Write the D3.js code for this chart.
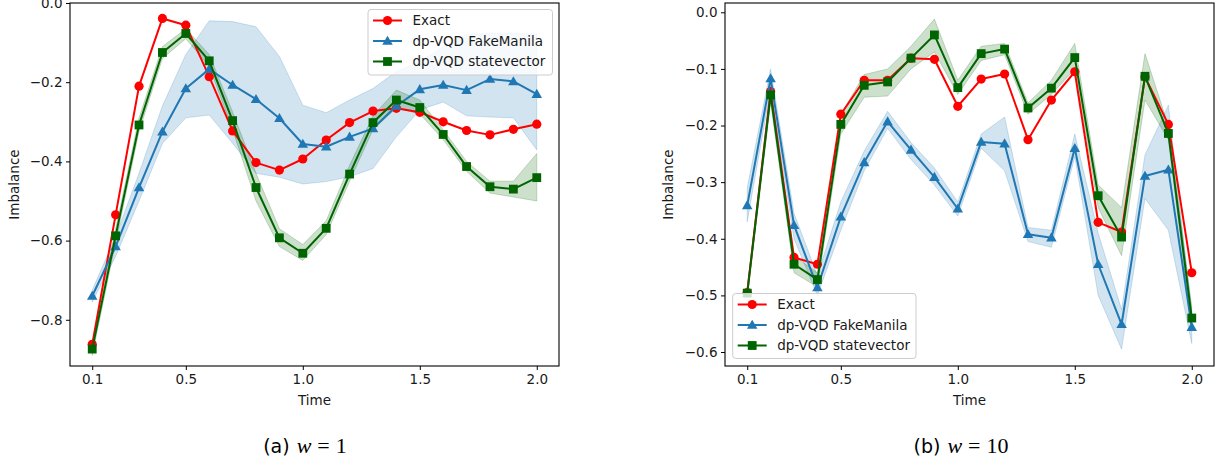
<!DOCTYPE html>
<html>
<head>
<meta charset="utf-8">
<script src="https://cdn.jsdelivr.net/npm/d3@7"></script>
<style>
  html, body { margin: 0; padding: 0; background: #fff; }
  svg text { font-family: "DejaVu Sans", sans-serif; }
</style>
</head>
<body>
<svg id="chart" width="1220" height="465"></svg>
<script>
// ---------- data ----------
const times = [0.1,0.2,0.3,0.4,0.5,0.6,0.7,0.8,0.9,1.0,1.1,1.2,1.3,1.4,1.5,1.6,1.7,1.8,1.9,2.0];
const xTicks = [0.1, 0.5, 1.0, 1.5, 2.0];
const seriesNames = ["Exact", "dp-VQD FakeManila", "dp-VQD statevector"];

// panel (a) w = 1
const exactA = [-0.862,-0.535,-0.210,-0.039,-0.056,-0.186,-0.323,-0.403,-0.422,-0.394,-0.346,-0.302,-0.273,-0.266,-0.276,-0.300,-0.322,-0.333,-0.319,-0.306];
const fakeA  = [-0.740,-0.615,-0.466,-0.325,-0.216,-0.167,-0.207,-0.243,-0.291,-0.356,-0.363,-0.338,-0.317,-0.260,-0.218,-0.207,-0.220,-0.192,-0.198,-0.230];
const fakeALo = [-0.755,-0.640,-0.500,-0.355,-0.290,-0.283,-0.354,-0.430,-0.440,-0.457,-0.451,-0.439,-0.418,-0.338,-0.270,-0.250,-0.285,-0.288,-0.290,-0.371];
const fakeAHi = [-0.725,-0.590,-0.430,-0.260,-0.130,-0.045,-0.047,-0.060,-0.135,-0.258,-0.277,-0.245,-0.216,-0.173,-0.148,-0.110,-0.080,-0.076,-0.076,-0.078];
const svA    = [-0.874,-0.588,-0.308,-0.125,-0.077,-0.146,-0.297,-0.466,-0.593,-0.632,-0.569,-0.432,-0.302,-0.245,-0.264,-0.332,-0.413,-0.464,-0.470,-0.441];
const svALo  = [-0.890,-0.605,-0.325,-0.140,-0.090,-0.160,-0.320,-0.500,-0.615,-0.650,-0.585,-0.450,-0.320,-0.265,-0.280,-0.345,-0.425,-0.480,-0.490,-0.500];
const svAHi  = [-0.860,-0.570,-0.290,-0.110,-0.065,-0.130,-0.275,-0.430,-0.570,-0.610,-0.550,-0.410,-0.285,-0.220,-0.245,-0.320,-0.400,-0.450,-0.450,-0.380];
const yTicksA = [-0.8, -0.6, -0.4, -0.2, 0.0];

// panel (b) w = 10
const exactB = [-0.495,-0.140,-0.433,-0.445,-0.180,-0.120,-0.120,-0.081,-0.083,-0.166,-0.118,-0.109,-0.225,-0.155,-0.105,-0.371,-0.388,-0.114,-0.198,-0.460];
const fakeB  = [-0.341,-0.117,-0.376,-0.486,-0.361,-0.265,-0.193,-0.243,-0.291,-0.347,-0.229,-0.232,-0.392,-0.398,-0.240,-0.445,-0.551,-0.289,-0.278,-0.556];
const fakeBLo = [-0.370,-0.135,-0.400,-0.500,-0.385,-0.280,-0.205,-0.260,-0.305,-0.360,-0.240,-0.280,-0.405,-0.415,-0.255,-0.500,-0.595,-0.329,-0.385,-0.585];
const fakeBHi = [-0.310,-0.100,-0.355,-0.465,-0.335,-0.245,-0.175,-0.230,-0.275,-0.335,-0.215,-0.185,-0.380,-0.385,-0.215,-0.390,-0.525,-0.252,-0.164,-0.530];
const svB    = [-0.496,-0.146,-0.445,-0.472,-0.198,-0.129,-0.123,-0.081,-0.040,-0.133,-0.073,-0.065,-0.169,-0.134,-0.080,-0.324,-0.397,-0.113,-0.214,-0.540];
const svBLo  = [-0.505,-0.160,-0.460,-0.485,-0.215,-0.150,-0.148,-0.100,-0.070,-0.145,-0.085,-0.075,-0.180,-0.145,-0.100,-0.345,-0.430,-0.155,-0.225,-0.560];
const svBHi  = [-0.490,-0.130,-0.430,-0.460,-0.180,-0.110,-0.100,-0.060,-0.012,-0.120,-0.060,-0.055,-0.160,-0.120,-0.055,-0.305,-0.345,-0.073,-0.200,-0.520];
const yTicksB = [-0.6, -0.5, -0.4, -0.3, -0.2, -0.1, 0.0];

// ---------- drawing ----------
const svg = d3.select("#chart");
const RED = "#ff0000", BLUE = "#1f77b4", GREEN = "#006400";
const FS = 13.5;
const fmt = d => d3.format(".1f")(d).replace("-", "\u2212");

function marker(g, type, color, x, y) {
  if (type === "circle") {
    g.append("circle").attr("cx", x).attr("cy", y).attr("r", 4.6).attr("fill", color);
  } else if (type === "square") {
    g.append("rect").attr("x", x - 4.4).attr("y", y - 4.4).attr("width", 8.8).attr("height", 8.8).attr("fill", color);
  } else {
    g.append("path").attr("d", d3.symbol(d3.symbolTriangle, 48)()).attr("transform", `translate(${x},${y + 0.8})`).attr("fill", color);
  }
}

function drawPanel(p) {
  const x = d3.scaleLinear().domain([0.005, 2.095]).range([p.left, p.right]);
  const y = d3.scaleLinear().domain(p.yDomain).range([p.bottom, p.top]);
  const g = svg.append("g");

  g.append("defs").append("clipPath").attr("id", p.id)
    .append("rect").attr("x", p.left).attr("y", p.top).attr("width", p.right - p.left).attr("height", p.bottom - p.top);
  const plot = g.append("g").attr("clip-path", `url(#${p.id})`);

  const area = (lo, hi) => d3.area().x((d, i) => x(times[i])).y0((d, i) => y(lo[i])).y1((d, i) => y(hi[i]))(times);
  plot.append("path").attr("d", area(p.fakeLo, p.fakeHi)).attr("fill", BLUE).attr("fill-opacity", 0.2)
      .attr("stroke", BLUE).attr("stroke-opacity", 0.2).attr("stroke-width", 1);
  plot.append("path").attr("d", area(p.svLo, p.svHi)).attr("fill", GREEN).attr("fill-opacity", 0.2)
      .attr("stroke", GREEN).attr("stroke-opacity", 0.2).attr("stroke-width", 1);

  const line = d3.line().x((d, i) => x(times[i])).y(d => y(d));
  const series = [[p.exact, RED, "circle"], [p.fake, BLUE, "triangle"], [p.sv, GREEN, "square"]];
  series.forEach(([vals, color, type]) => {
    plot.append("path").attr("d", line(vals)).attr("fill", "none").attr("stroke", color)
        .attr("stroke-width", 2).attr("stroke-linejoin", "round");
    vals.forEach((v, i) => marker(plot, type, color, x(times[i]), y(v)));
  });

  // axes
  const xAxis = d3.axisBottom(x).tickValues(xTicks).tickFormat(d3.format(".1f")).tickSize(4).tickPadding(4);
  const gx = g.append("g").attr("transform", `translate(0,${p.bottom})`).call(xAxis);
  const yAxis = d3.axisLeft(y).tickValues(p.yTicks).tickFormat(fmt).tickSize(4).tickPadding(3.5);
  const gy = g.append("g").attr("transform", `translate(${p.left},0)`).call(yAxis);
  [gx, gy].forEach(a => {
    a.select(".domain").remove();
    a.selectAll(".tick line").attr("stroke", "#000").attr("stroke-width", 1);
    a.selectAll(".tick text").attr("font-size", FS).attr("font-family", "DejaVu Sans").attr("fill", "#1a1a1a");
  });
  g.append("rect").attr("x", p.left).attr("y", p.top).attr("width", p.right - p.left).attr("height", p.bottom - p.top)
    .attr("fill", "none").attr("stroke", "#000").attr("stroke-width", 1.1);

  g.append("text").attr("x", (p.left + p.right) / 2).attr("y", 405).attr("text-anchor", "middle")
    .attr("font-size", FS).attr("fill", "#1a1a1a").text("Time");
  g.append("text").attr("transform", `translate(${p.ylabelX},${(p.top + p.bottom) / 2}) rotate(-90)`)
    .attr("text-anchor", "middle").attr("font-size", FS).attr("fill", "#1a1a1a").text("Imbalance");

  // legend
  const L = p.legend;
  const lg = g.append("g");
  lg.append("rect").attr("x", L.x).attr("y", L.y).attr("width", L.w).attr("height", L.h).attr("rx", 3)
    .attr("fill", "#fff").attr("fill-opacity", 0.8).attr("stroke", "#cccccc").attr("stroke-width", 1);
  seriesNames.forEach((name, i) => {
    const [, color, type] = series[i];
    const cy = L.y + 11 + i * 20.5;
    lg.append("line").attr("x1", L.x + 5).attr("x2", L.x + 34).attr("y1", cy).attr("y2", cy)
      .attr("stroke", color).attr("stroke-width", 2);
    marker(lg, type, color, L.x + 19.5, cy);
    lg.append("text").attr("x", L.x + 44.5).attr("y", cy + 4.8).attr("font-size", FS).attr("fill", "#1a1a1a").text(name);
  });

  // caption
  const cap = svg.append("text").attr("x", p.capX).attr("y", 453).attr("text-anchor", "middle").attr("font-size", 22);
  cap.append("tspan").attr("font-family", "DejaVu Sans").attr("font-size", 19).text(p.capLabel);
  cap.append("tspan").attr("dx", 7).attr("font-family", "Liberation Serif, serif").attr("font-style", "italic").text("w");
  cap.append("tspan").attr("dx", 6).attr("font-family", "Liberation Serif, serif").text("=");
  cap.append("tspan").attr("dx", 6).attr("font-family", "Liberation Serif, serif").text(p.capVal);
}

drawPanel({
  id: "clipA", left: 70, right: 559, top: 3, bottom: 366, yDomain: [-0.9167, 0.0], yTicks: yTicksA,
  exact: exactA, fake: fakeA, fakeLo: fakeALo, fakeHi: fakeAHi, sv: svA, svLo: svALo, svHi: svAHi,
  ylabelX: 19, legend: { x: 368, y: 9.5, w: 184.5, h: 65.5 }, capX: 305, capLabel: "(a)", capVal: "1"
});
drawPanel({
  id: "clipB", left: 725, right: 1214, top: 3, bottom: 366, yDomain: [-0.6247, 0.0164], yTicks: yTicksB,
  exact: exactB, fake: fakeB, fakeLo: fakeBLo, fakeHi: fakeBHi, sv: svB, svLo: svBLo, svHi: svBHi,
  ylabelX: 673, legend: { x: 732.7, y: 293.5, w: 183.3, h: 65 }, capX: 961, capLabel: "(b)", capVal: "10"
});
</script>
</body>
</html>
